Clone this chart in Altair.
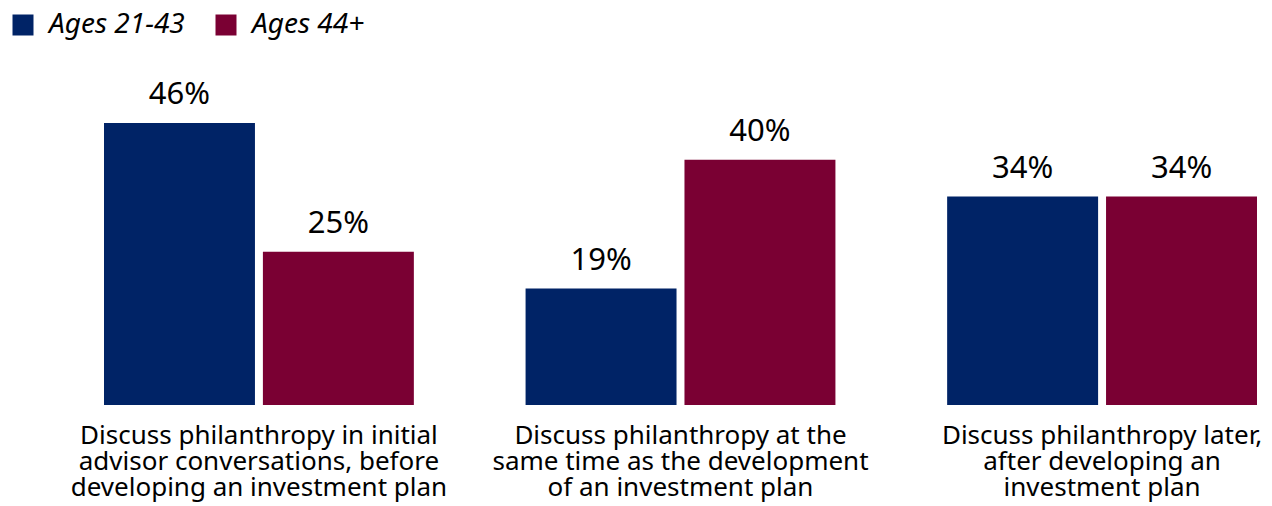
import altair as alt
import pandas as pd

categories = [
    "Discuss philanthropy in initial|advisor conversations, before|developing an investment plan",
    "Discuss philanthropy at the|same time as the development|of an investment plan",
    "Discuss philanthropy later,|after developing an|investment plan",
]
groups = ["Ages 21-43", "Ages 44+"]
values_young = [46, 19, 34]
values_old = [25, 40, 34]
colors = ["#002366", "#7a0033"]

rows = []
for i, c in enumerate(categories):
    rows.append({"category": c, "group": groups[0], "value": values_young[i], "label": f"{values_young[i]}%"})
    rows.append({"category": c, "group": groups[1], "value": values_old[i], "label": f"{values_old[i]}%"})
df = pd.DataFrame(rows)

FONT = "Noto Sans"

x = alt.X("category:N", sort=categories, title=None,
          scale=alt.Scale(paddingInner=0.265, paddingOuter=0),
          axis=alt.Axis(orient="bottom", domain=False, ticks=False, labelAngle=0,
                        labelExpr="split(datum.label, '|')", labelFontSize=26,
                        labelLineHeight=26, labelPadding=17, labelLimit=0,
                        labelFont=FONT, labelColor="#000000", labelBaseline="top"))
xoff = alt.XOffset("group:N", sort=groups, scale=alt.Scale(paddingInner=0.05, paddingOuter=0))
y = alt.Y("value:Q", scale=alt.Scale(domain=[0, 46], nice=False, zero=True), axis=None)

bars = alt.Chart(df).mark_bar().encode(
    x=x, xOffset=xoff, y=y,
    color=alt.Color("group:N", sort=groups,
                    scale=alt.Scale(domain=groups, range=colors),
                    legend=alt.Legend(title=None, orient="none", direction="horizontal",
                                      legendX=-95, legendY=-112, symbolType="square",
                                      symbolSize=441, symbolStrokeWidth=0,
                                      labelFontSize=28, labelFont=FONT, labelFontStyle="italic",
                                      labelColor="#000000", columnPadding=27, labelOffset=12,
                                      symbolOffset=0)),
)

texts = alt.Chart(df).mark_text(baseline="alphabetic", dy=-19, fontSize=31, font=FONT,
                                color="#000000").encode(
    x=x, xOffset=xoff, y=y, text="label:N"
)

chart = alt.layer(bars, texts).properties(
    width=1153, height=282,
    autosize=alt.AutoSizeParams(type="none"),
    padding={"left": 96, "top": 115, "right": 7, "bottom": 101},
).configure_view(stroke=None)

chart.save("out.html", embed_options={"renderer": "svg", "actions": False})
